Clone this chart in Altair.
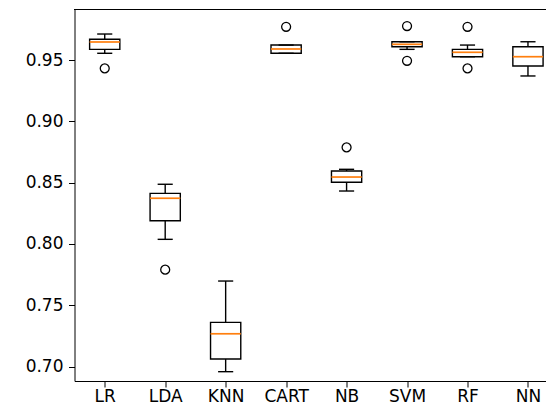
import altair as alt
import pandas as pd

categories = ["LR", "LDA", "KNN", "CART", "NB", "SVM", "RF", "NN"]
whisker_low = [0.9555, 0.8038, 0.6959, 0.9555, 0.8432, 0.9587, 0.9527, 0.9370]
q1 = [0.9587, 0.8190, 0.7062, 0.9555, 0.8503, 0.9608, 0.9527, 0.9451]
median = [0.9647, 0.8373, 0.7268, 0.9590, 0.8546, 0.9628, 0.9563, 0.9527]
q3 = [0.9669, 0.8413, 0.7361, 0.9622, 0.8595, 0.9649, 0.9587, 0.9608]
whisker_high = [0.9712, 0.8487, 0.7698, 0.9622, 0.8609, 0.9649, 0.9622, 0.9649]
outlier_cats = ["LR", "LDA", "CART", "NB", "SVM", "SVM", "RF", "RF"]
outlier_vals = [0.9432, 0.7791, 0.9771, 0.8788, 0.9777, 0.9494, 0.9771, 0.9432]
y_ticks = [0.70, 0.75, 0.80, 0.85, 0.90, 0.95]

pos = {c: i + 1 for i, c in enumerate(categories)}
df = pd.DataFrame({
    "cat": categories,
    "pos": [pos[c] for c in categories],
    "wl": whisker_low, "q1": q1, "med": median, "q3": q3, "wh": whisker_high,
})
df["box_l"] = df["pos"] - 0.25
df["box_r"] = df["pos"] + 0.25
df["cap_l"] = df["pos"] - 0.125
df["cap_r"] = df["pos"] + 0.125
out = pd.DataFrame({"cat": outlier_cats, "val": outlier_vals})
out["pos"] = out["cat"].map(pos)

W, H = 471, 372
xs = alt.Scale(domain=[0.5, 8.29], nice=False, zero=False)
ys = alt.Scale(domain=[0.6883, 0.9916], nice=False, zero=False)

label_expr = "[" + ",".join(f"'{c}'" for c in categories) + "][datum.value - 1]"
xaxis = alt.Axis(values=list(range(1, len(categories) + 1)), labelExpr=label_expr,
                 title=None, labelPadding=1.5, orient="bottom")
yaxis = alt.Axis(values=y_ticks, format=".2f", title=None, labelPadding=5.5,
                 orient="left")

base = alt.Chart(df)
lw = 1.4

whisk_lo = base.mark_rule(color="black", strokeWidth=lw).encode(
    x=alt.X("pos:Q", scale=xs, axis=xaxis),
    y=alt.Y("wl:Q", scale=ys, axis=yaxis),
    y2="q1:Q")
whisk_hi = base.mark_rule(color="black", strokeWidth=lw).encode(
    x=alt.X("pos:Q", scale=xs), y=alt.Y("q3:Q", scale=ys), y2="wh:Q")
cap_lo = base.mark_rule(color="black", strokeWidth=lw).encode(
    x=alt.X("cap_l:Q", scale=xs), x2="cap_r:Q", y=alt.Y("wl:Q", scale=ys))
cap_hi = base.mark_rule(color="black", strokeWidth=lw).encode(
    x=alt.X("cap_l:Q", scale=xs), x2="cap_r:Q", y=alt.Y("wh:Q", scale=ys))
box = base.mark_rect(fill="white", fillOpacity=0, stroke="black", strokeWidth=lw).encode(
    x=alt.X("box_l:Q", scale=xs), x2="box_r:Q",
    y=alt.Y("q1:Q", scale=ys), y2="q3:Q")
med = base.mark_rule(color="#ff7f0e", strokeWidth=1.7).encode(
    x=alt.X("box_l:Q", scale=xs), x2="box_r:Q", y=alt.Y("med:Q", scale=ys))
pts = alt.Chart(out).mark_point(shape="circle", filled=False, color="black",
                                 size=80, strokeWidth=1.3, opacity=1).encode(
    x=alt.X("pos:Q", scale=xs), y=alt.Y("val:Q", scale=ys))
top = alt.Chart(df).mark_rule(color="black", strokeWidth=1).encode(
    x=alt.value(0), x2=alt.value(W), y=alt.value(0.5))

chart = alt.layer(whisk_lo, whisk_hi, cap_lo, cap_hi, box, med, pts, top).properties(
    width=W, height=H,
    autosize=alt.AutoSizeParams(type="none"),
    padding={"left": 66.5, "top": 1, "right": 0, "bottom": 26},
).configure_view(stroke=None).configure_axis(
    labelFont="DejaVu Sans", labelFontSize=17, labelColor="black",
    tickColor="black", domainColor="black", grid=False, tickSize=6,
    tickWidth=1, domainWidth=1,
)

chart.save("out.html", embed_options={"renderer": "svg", "actions": False})
